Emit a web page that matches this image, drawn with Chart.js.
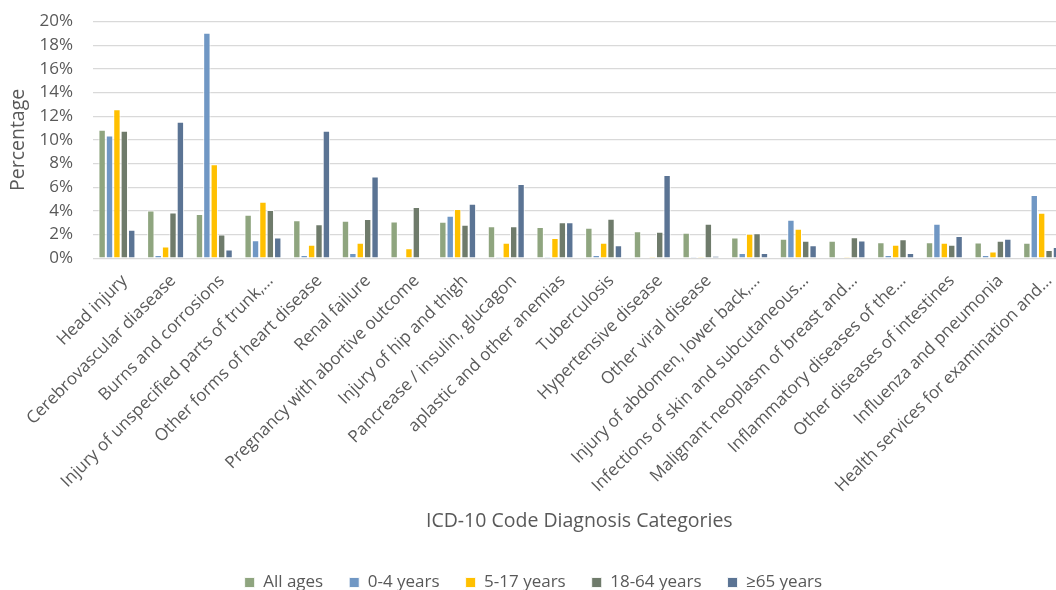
<!DOCTYPE html>
<html>
<head>
<meta charset="utf-8">
<script src="https://cdn.jsdelivr.net/npm/chart.js@4"></script>
<style>
  html, body { margin: 0; padding: 0; overflow: hidden; background: #ffffff; }
  #wrap { position: absolute; left: 0; top: 0; width: 1072px; height: 590px; }
</style>
</head>
<body>
<div id="wrap"><canvas id="c" width="1072" height="590"></canvas></div>
<script>
const categories = [
  "Head injury",
  "Cerebrovascular diasease",
  "Burns and corrosions",
  "Injury of unspecified parts of trunk,…",
  "Other forms of heart disease",
  "Renal failure",
  "Pregnancy with abortive outcome",
  "Injury of hip and thigh",
  "Pancrease / insulin, glucagon",
  "aplastic and other anemias",
  "Tuberculosis",
  "Hypertensive disease",
  "Other viral disease",
  "Injury of abdomen, lower back,…",
  "Infections of skin and subcutaneous…",
  "Malignant neoplasm of breast and…",
  "Inflammatory diseases of the…",
  "Other diseases of intestines",
  "Influenza and pneumonia",
  "Health services for examination and…"
];
const seriesNames = ["All ages", "0-4 years", "5-17 years", "18-64 years", "≥65 years"];
const allAges   = [10.86, 4.04, 3.73, 3.67, 3.22, 3.17, 3.11, 3.08, 2.71, 2.65, 2.57, 2.29, 2.15, 1.75, 1.64, 1.47, 1.36, 1.36, 1.33, 1.30];
const age0to4   = [10.37, 0.28, 19.05, 1.53, 0.28, 0.45, 0.00, 3.59, 0.11, 0.11, 0.28, 0.00, 0.10, 0.45, 3.25, 0.00, 0.28, 2.91, 0.28, 5.34];
const age5to17  = [12.58, 0.99, 7.94, 4.78, 1.15, 1.30, 0.85, 4.16, 1.30, 1.72, 1.30, 0.11, 0.10, 2.06, 2.49, 0.10, 1.13, 1.30, 0.56, 3.84];
const age18to64 = [10.77, 3.87, 2.00, 4.07, 2.88, 3.31, 4.33, 2.83, 2.71, 3.05, 3.33, 2.23, 2.91, 2.12, 1.47, 1.78, 1.61, 1.13, 1.47, 0.70];
const age65plus = [2.40, 11.53, 0.73, 1.75, 10.77, 6.90, 0.00, 4.61, 6.28, 3.05, 1.10, 7.04, 0.20, 0.45, 1.10, 1.49, 0.45, 1.89, 1.64, 0.96];
const yTicks = [0, 2, 4, 6, 8, 10, 12, 14, 16, 18, 20];

const colors = ["#8FA57F", "#7097C4", "#FFC000", "#6F7B6B", "#5B7494"];
const seriesValues = [allAges, age0to4, age5to17, age18to64, age65plus];
const FONT = "'Open Sans', 'DejaVu Sans', sans-serif";
const GREY = "#595959";

new Chart(document.getElementById('c'), {
  type: 'bar',
  data: {
    labels: categories,
    datasets: seriesNames.map((n, i) => ({
      label: n,
      data: seriesValues[i],
      backgroundColor: colors[i],
      borderColor: 'rgba(255,255,255,0.85)',
      borderWidth: 1,
      barPercentage: 1.0,
      categoryPercentage: 0.76
    }))
  },
  options: {
    responsive: false,
    animation: false,
    layout: { padding: { top: 21.5, left: 0.8, right: 6, bottom: -11 } },
    plugins: {
      legend: {
        position: 'bottom',
        labels: {
          font: { family: FONT, size: 17 },
          color: GREY,
          boxWidth: 10,
          boxHeight: 10,
          padding: 26
        }
      },
      tooltip: { enabled: false }
    },
    scales: {
      x: {
        grid: { display: false, drawTicks: false },
        border: { display: false },
        ticks: {
          autoSkip: false,
          maxRotation: 45,
          minRotation: 45,
          font: { family: FONT, size: 17 },
          color: GREY,
          padding: 12.6,
          labelOffset: 7.6
        },
        title: {
          display: true,
          text: 'ICD-10 Code Diagnosis Categories',
          font: { family: FONT, size: 19.5 },
          color: GREY,
          padding: { top: 31, bottom: 15 }
        }
      },
      y: {
        min: 0,
        max: 20,
        afterBuildTicks: (axis) => { axis.ticks = yTicks.map(v => ({ value: v })); },
        grid: { color: '#D9D9D9', lineWidth: 1.3, drawTicks: true, tickLength: 10.6, tickColor: 'rgba(0,0,0,0)' },
        border: { display: false },
        ticks: {
          autoSkip: false,
          font: { family: FONT, size: 17 },
          color: GREY,
          padding: 9,
          callback: (v) => v + '%'
        },
        title: {
          display: true,
          text: 'Percentage',
          font: { family: FONT, size: 19.5 },
          color: GREY,
          padding: { top: 6.3, bottom: 0 }
        }
      }
    }
  }
});
</script>
</body>
</html>
